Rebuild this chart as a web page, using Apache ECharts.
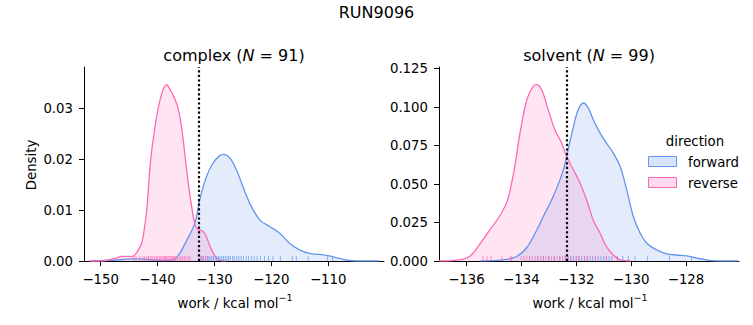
<!DOCTYPE html>
<html><head><meta charset="utf-8">
<script src="https://cdn.jsdelivr.net/npm/echarts@6/dist/echarts.min.js"></script>
<style>html,body{margin:0;padding:0;background:#fff}#c{width:753px;height:325px}</style>
</head><body><div id="c"></div>
<script>
// ---------- data ----------
const figTitle = 'RUN9096';
const directions = ['forward', 'reverse'];
const complexN = 91, solventN = 99;

// complex KDE (forward)
const complexFwdX = [-152, -147, -145, -143, -141, -139, -137.3, -136.1, -135, -133.45, -132.6, -131.4, -130.25, -129.1, -128.4, -127.3, -126.15, -125, -123.8, -122.05, -120.3, -118.55, -116.8, -115.05, -113.3, -111.5, -109.8, -108, -106.3, -103.3, -101];
const complexFwdY = [0, 0.0002, 0.0004, 0.0004, 0.0002, 0.0001, 0.0002, 0.0015, 0.0038, 0.0074, 0.012, 0.0166, 0.0193, 0.0207, 0.021, 0.0203, 0.018, 0.0147, 0.0114, 0.0081, 0.0068, 0.0055, 0.0035, 0.0022, 0.0015, 0.0013, 0.001, 0.0005, 0.0001, 0, 0];
// complex KDE (reverse)
const complexRevX = [-152, -149, -147.5, -146.2, -145.2, -144.4, -143.6, -142.8, -142.3, -141.9, -141.2, -140.5, -139.9, -139.1, -138.4, -137.8, -137.2, -136.5, -136.0, -135.5, -135.1, -134.5, -133.9, -133.4, -132.9, -132.3, -131.8, -131.3, -130.8, -130.2, -129.6, -129, -128];
const complexRevY = [0, 0.0001, 0.0005, 0.0009, 0.0009, 0.0009, 0.0018, 0.0035, 0.0065, 0.010, 0.020, 0.026, 0.030, 0.0335, 0.0347, 0.0338, 0.0325, 0.0305, 0.028, 0.024, 0.020, 0.0145, 0.010, 0.0072, 0.0062, 0.006, 0.0056, 0.0045, 0.003, 0.0015, 0.0006, 0.0001, 0];
// solvent KDE (forward)
const solventFwdX = [-135.5, -134.9, -134.54, -134.18, -133.82, -133.5, -133.2, -132.84, -132.47, -132.3, -132.1, -131.93, -131.74, -131.56, -131.38, -131.13, -130.9, -130.65, -130.4, -130.16, -129.92, -129.67, -129.43, -129.07, -128.7, -128.34, -127.97, -127.6, -127.24, -126.75, -126.1];
const solventFwdY = [0, 0.0004, 0.001, 0.0028, 0.0083, 0.018, 0.0289, 0.0419, 0.0592, 0.0723, 0.0874, 0.0983, 0.1027, 0.0994, 0.0918, 0.0831, 0.0766, 0.0701, 0.0614, 0.0462, 0.0289, 0.018, 0.0115, 0.0072, 0.0046, 0.0039, 0.0033, 0.0018, 0.0007, 0, 0];
// solvent KDE (reverse)
const solventRevX = [-137, -136.5, -136, -135.76, -135.45, -135.15, -134.8, -134.5, -134.24, -134.05, -133.8, -133.57, -133.45, -133.26, -133.02, -132.78, -132.53, -132.35, -132.1, -131.86, -131.62, -131.38, -131.13, -130.9, -130.65, -130.4, -130];
const solventRevY = [0, 0.0003, 0.0018, 0.005, 0.0126, 0.0202, 0.0289, 0.0397, 0.0614, 0.0831, 0.1048, 0.1135, 0.1146, 0.1113, 0.0983, 0.0853, 0.0766, 0.0679, 0.0592, 0.0506, 0.0397, 0.0267, 0.018, 0.0093, 0.0039, 0.0007, 0];

// rug samples
const complexFwdRug = [-132.3, -131.9, -131.5, -131.1, -130.8, -130.5, -130.2, -129.9, -129.6, -129.3, -129.0, -128.7, -128.4, -128.1, -127.8, -127.5, -127.2, -126.8, -126.5, -126.1, -125.7, -125.3, -124.9, -124.4, -124.0, -123.5, -123.0, -122.5, -121.9, -121.2, -120.5, -119.7, -118.4, -116.3, -115.6, -113.5, -110.1, -109.2];
const complexRevRug = [-144.2, -143.8, -143.1, -142.6, -142.3, -141.9, -141.6, -141.3, -141.0, -140.8, -140.5, -140.2, -140.0, -139.7, -139.5, -139.2, -139.0, -138.8, -138.6, -138.4, -138.2, -138.0, -137.8, -137.6, -137.4, -137.2, -137.0, -136.8, -136.5, -136.2, -135.9, -135.6, -135.3, -135.0, -134.6, -134.3, -132.5, -132.1, -131.6, -131.2];
const solventFwdRug = [-133.7, -133.4, -133.2, -133.0, -132.8, -132.6, -132.4, -132.3, -132.2, -132.1, -132.0, -131.9, -131.8, -131.7, -131.6, -131.5, -131.4, -131.3, -131.2, -131.1, -131.0, -130.9, -130.8, -130.7, -130.5, -130.3, -130.1, -129.86, -129.4, -128.6, -127.8];
const solventRevRug = [-135.4, -135.25, -135.1, -134.7, -134.4, -134.35, -134.0, -133.9, -133.8, -133.7, -133.6, -133.5, -133.4, -133.3, -133.2, -133.1, -133.0, -132.9, -132.8, -132.7, -132.6, -132.5, -132.4, -132.3, -132.2, -132.0, -131.9, -131.7, -131.6, -131.3, -130.9, -130.5];

// reference (dotted) lines
const complexMarker = -132.75;
const solventMarker = -132.36;

// axes ranges and ticks
const complexXRange = [-152.93, -100.18];
const complexXTicks = [-150, -140, -130, -120, -110];
const complexYRange = [0, 0.0382];
const complexYTicks = [0, 0.01, 0.02, 0.03];
const solventXRange = [-137.0, -126.07];
const solventXTicks = [-136, -134, -132, -130, -128];
const solventYRange = [0, 0.1261];
const solventYTicks = [0, 0.025, 0.05, 0.075, 0.1, 0.125];

// ---------- styling ----------
const FONT = 'DejaVu Sans';
const TXT = '#000000';
const AX = '#000000';
const BLUE = '#6495ED', PINK = '#FF69B4';
const BLUE_F = 'rgba(100,149,237,0.25)', PINK_F = 'rgba(255,105,180,0.25)';
const LINE_COLORS = [BLUE, PINK], FILL_COLORS = [BLUE_F, PINK_F];

function fmt(v, d) { const s = Math.abs(v).toFixed(d); return v < 0 ? '\u2212' + s : s; }
function zip(xs, ys) { return xs.map((x, i) => [x, ys[i]]); }

function xAxisDef(grid, range, ticks) {
  return {
    type: 'value', gridIndex: grid, min: range[0], max: range[1],
    splitLine: { show: false },
    axisLine: { show: true, lineStyle: { color: AX, width: 1 } },
    axisTick: { show: true, customValues: ticks, length: 5, lineStyle: { color: AX, width: 1 } },
    axisLabel: { customValues: ticks, margin: 12, fontFamily: FONT, fontSize: 13.3, color: TXT, formatter: v => fmt(v, 0) }
  };
}
function yAxisDef(grid, range, ticks, dec) {
  return {
    type: 'value', gridIndex: grid, min: range[0], max: range[1],
    splitLine: { show: false },
    axisLine: { show: true, lineStyle: { color: AX, width: 1 } },
    axisTick: { show: true, customValues: ticks, length: 5, lineStyle: { color: AX, width: 1 } },
    axisLabel: { customValues: ticks, margin: 11, fontFamily: FONT, fontSize: 13.3, color: TXT, formatter: v => fmt(v, dec) }
  };
}
function kde(name, idx, xs, ys, col, fill, marker) {
  const s = {
    type: 'line', name: name, xAxisIndex: idx, yAxisIndex: idx,
    data: zip(xs, ys), symbol: 'none', showSymbol: false, smooth: 0.35,
    lineStyle: { color: col, width: 1.3 }, itemStyle: { color: col },
    areaStyle: { color: fill }, z: 2, silent: true
  };
  if (marker !== undefined) {
    s.markLine = {
      silent: true, symbol: ['none', 'none'], label: { show: false },
      lineStyle: { color: '#000', type: [2.2, 2.4], width: 2.2, opacity: 1 },
      data: [{ xAxis: marker }], z: 5
    };
  }
  return s;
}
function rug(name, idx, vals, col) {
  return {
    type: 'scatter', name: name, xAxisIndex: idx, yAxisIndex: idx,
    data: vals.map(v => [v, 0]), symbol: 'rect', symbolSize: [1, 5], symbolOffset: [0, -2.5],
    itemStyle: { color: col, opacity: 0.7 }, z: 3, silent: true
  };
}

const workLabel = '{t|work / kcal mol}{s|\u22121}';
const workRich = {
  t: { fontFamily: FONT, fontSize: 13.3, fill: TXT, lineHeight: 18, verticalAlign: 'bottom' },
  s: { fontFamily: FONT, fontSize: 9.5, fill: TXT, lineHeight: 6, verticalAlign: 'top' }
};
function titleText(label, n) { return '{t|' + label + ' (}{i|N}{t| = ' + n + ')}'; }
const titleRich = {
  t: { fontFamily: FONT, fontSize: 16, fill: TXT },
  i: { fontFamily: FONT, fontSize: 16, fontStyle: 'italic', fill: TXT }
};

// legend (hue key) built as graphic elements
const legendGraphics = [
  { type: 'text', x: 695, y: 141, style: { text: 'direction', fontFamily: FONT, fontSize: 13.3, fill: TXT, textAlign: 'center', textVerticalAlign: 'middle' } }
];
directions.forEach((d, i) => {
  const cy = 162 + i * 21;
  legendGraphics.push({ type: 'rect', shape: { x: 648.5, y: cy - 5.5, width: 28, height: 10 },
    style: { fill: FILL_COLORS[i], stroke: LINE_COLORS[i], lineWidth: 1 } });
  legendGraphics.push({ type: 'text', x: 688, y: cy, style: { text: d, fontFamily: FONT, fontSize: 13.3, fill: TXT, textAlign: 'left', textVerticalAlign: 'middle' } });
});

const option = {
  animation: false,
  backgroundColor: '#ffffff',
  grid: [
    { left: 84, top: 67, width: 300, height: 194 },
    { left: 439, top: 67, width: 300, height: 194 }
  ],
  xAxis: [xAxisDef(0, complexXRange, complexXTicks), xAxisDef(1, solventXRange, solventXTicks)],
  yAxis: [yAxisDef(0, complexYRange, complexYTicks, 2), yAxisDef(1, solventYRange, solventYTicks, 3)],
  series: [
    kde(directions[0], 0, complexFwdX, complexFwdY, BLUE, BLUE_F),
    kde(directions[1], 0, complexRevX, complexRevY, PINK, PINK_F, complexMarker),
    rug('forward rug', 0, complexFwdRug, BLUE),
    rug('reverse rug', 0, complexRevRug, PINK),
    kde(directions[0], 1, solventFwdX, solventFwdY, BLUE, BLUE_F),
    kde(directions[1], 1, solventRevX, solventRevY, PINK, PINK_F, solventMarker),
    rug('forward rug', 1, solventFwdRug, BLUE),
    rug('reverse rug', 1, solventRevRug, PINK)
  ],
  graphic: [
    { type: 'text', x: 376.5, y: 12, style: { text: figTitle, fontFamily: FONT, fontSize: 16, fill: TXT, textAlign: 'center', textVerticalAlign: 'middle' } },
    { type: 'text', x: 234, y: 55, style: { text: titleText('complex', complexN), rich: titleRich, textAlign: 'center', textVerticalAlign: 'middle' } },
    { type: 'text', x: 589, y: 55, style: { text: titleText('solvent', solventN), rich: titleRich, textAlign: 'center', textVerticalAlign: 'middle' } },
    { type: 'text', x: 235, y: 301, style: { text: workLabel, rich: workRich, textAlign: 'center', textVerticalAlign: 'middle' } },
    { type: 'text', x: 590, y: 301, style: { text: workLabel, rich: workRich, textAlign: 'center', textVerticalAlign: 'middle' } },
    { type: 'text', x: 31, y: 165, rotation: Math.PI / 2, style: { text: 'Density', fontFamily: FONT, fontSize: 13.3, fill: TXT, textAlign: 'center', textVerticalAlign: 'middle' } }
  ].concat(legendGraphics)
};

const chart = echarts.init(document.getElementById('c'), null, { renderer: 'svg', width: 753, height: 325 });
chart.setOption(option);
</script>
</body></html>
